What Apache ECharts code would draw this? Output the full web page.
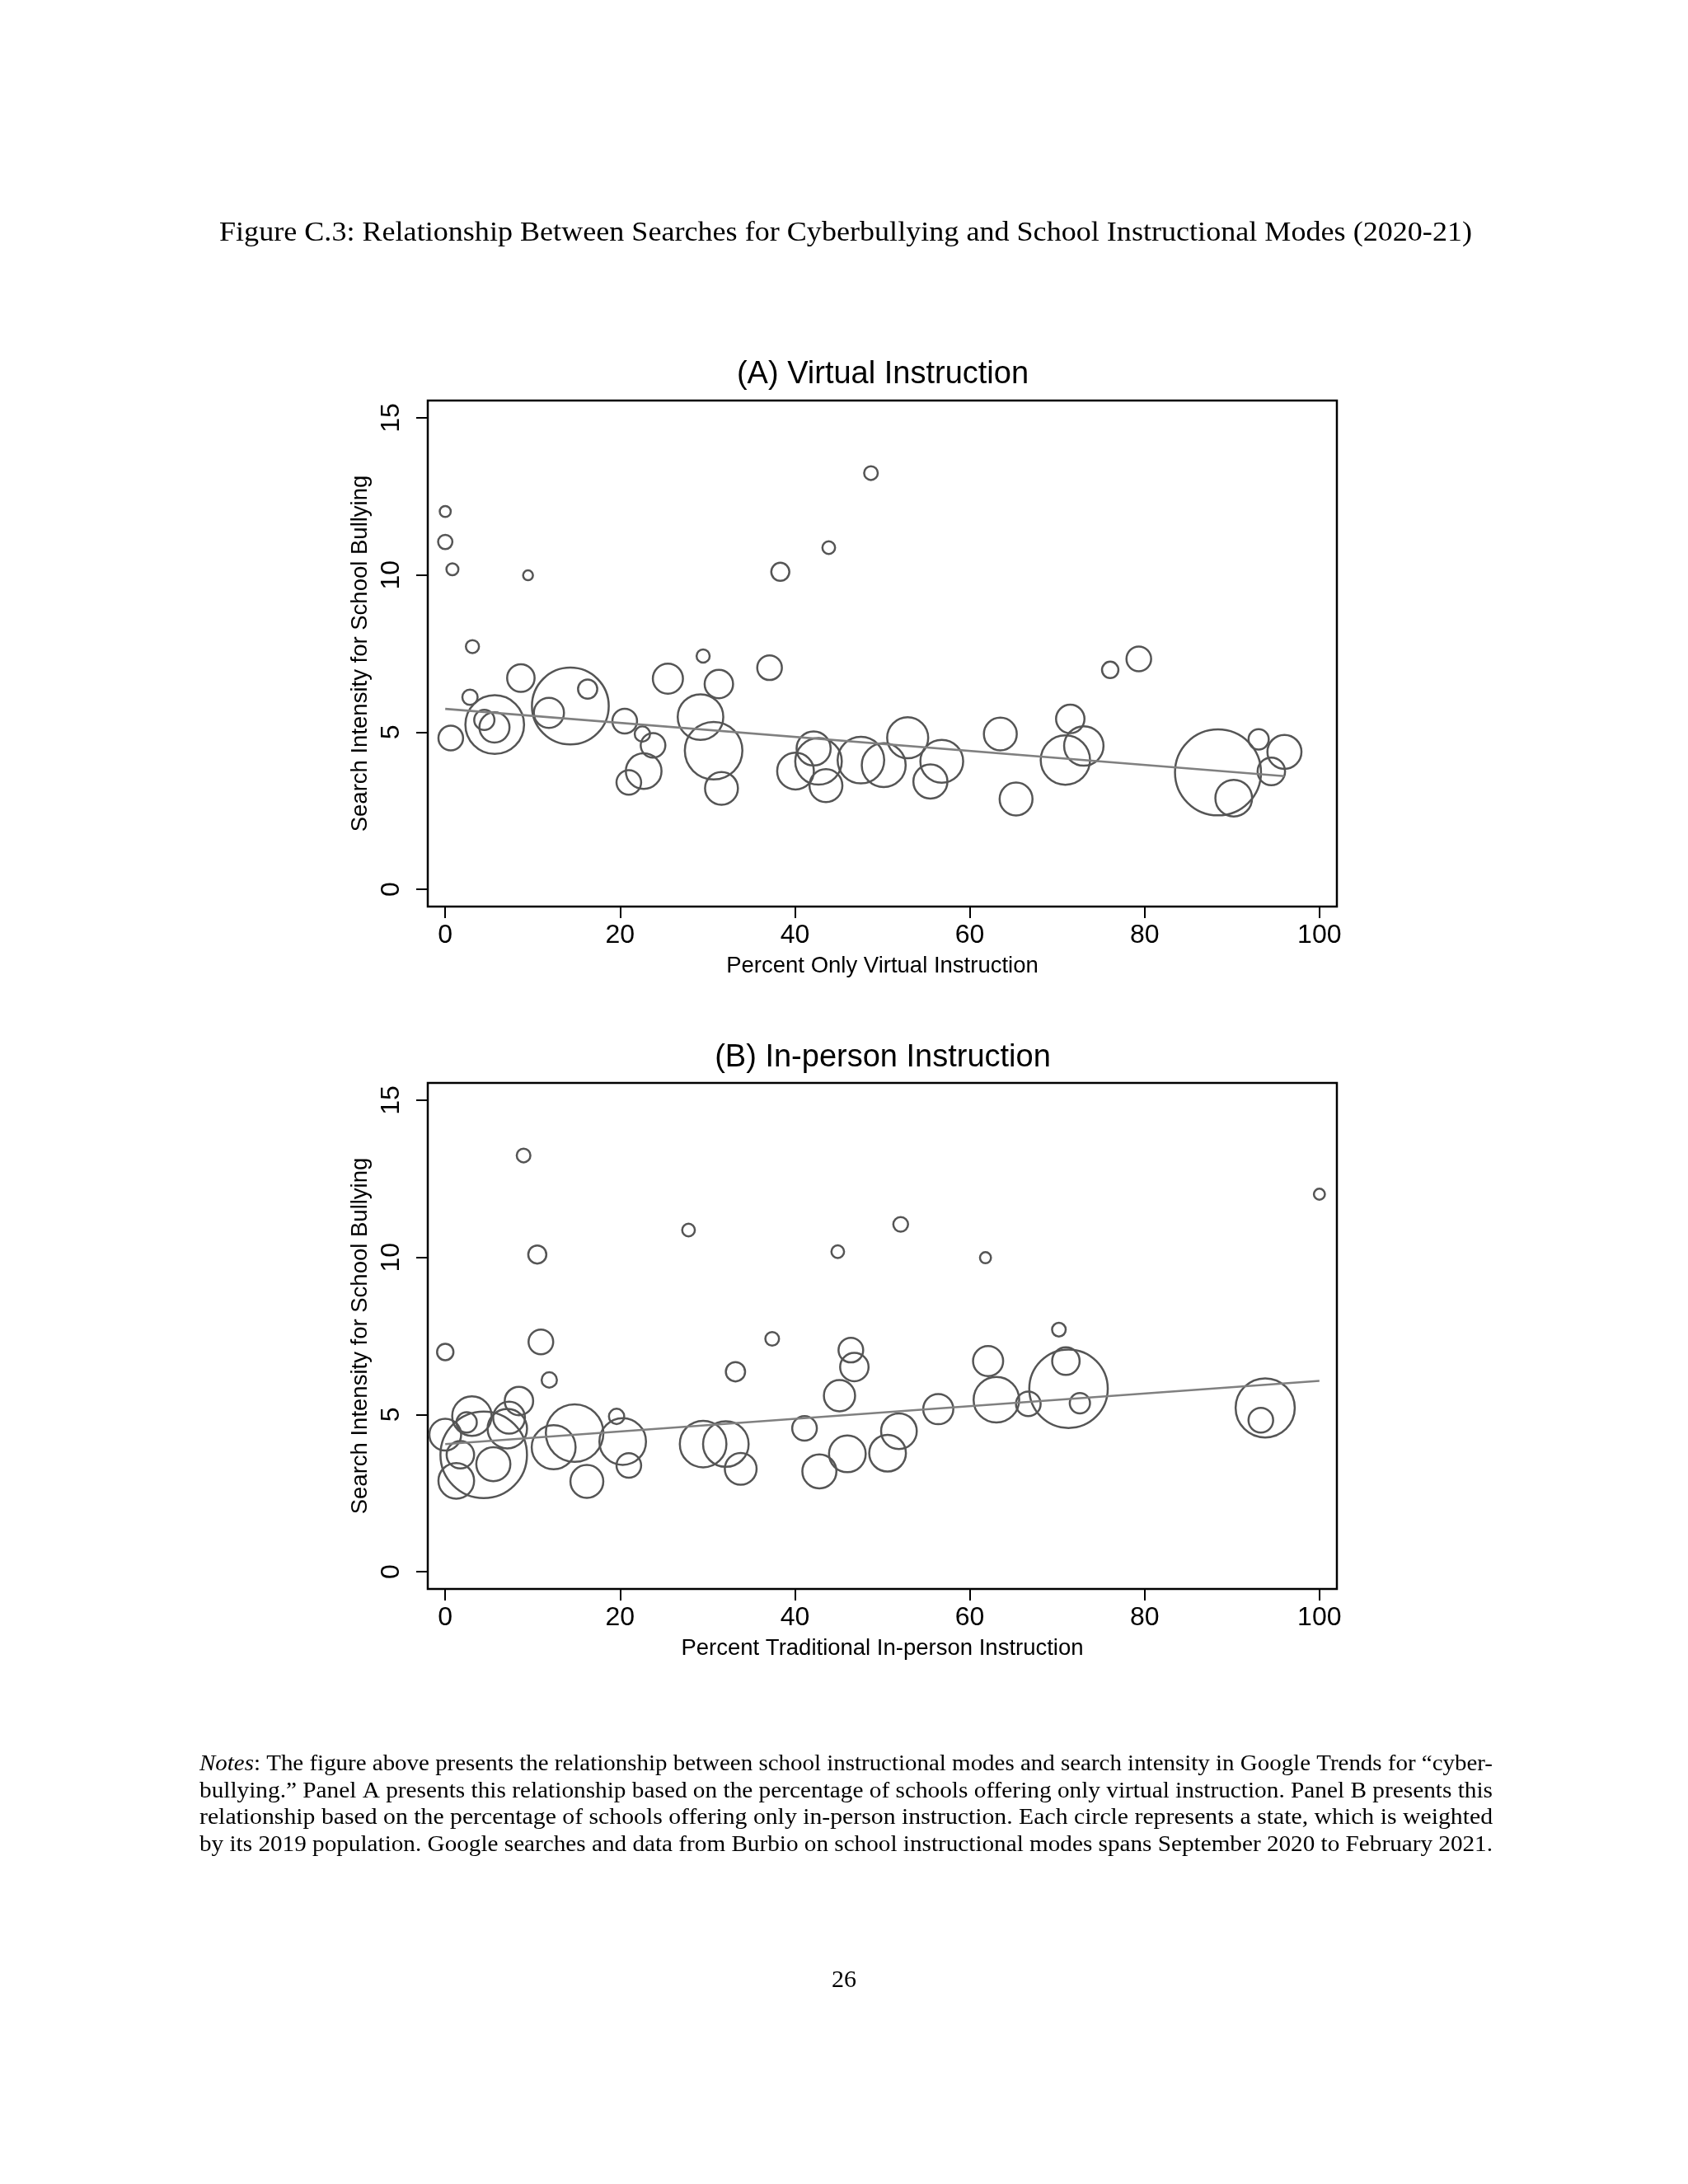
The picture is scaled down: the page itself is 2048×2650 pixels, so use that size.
<!DOCTYPE html>
<html>
<head>
<meta charset="utf-8">
<title>Figure C.3</title>
<script src="https://cdn.jsdelivr.net/npm/echarts@6/dist/echarts.min.js"></script>
<style>
  html, body { margin: 0; padding: 0; background: #fff; }
  #page { width: 2048px; height: 2650px; }
</style>
</head>
<body>
<div id="page"></div>
<script>
// Panel A: percent only virtual instruction vs search intensity, weighted by 2019 population (millions)
var virtualPct = [0, 0, 0.82, 9.47, 3.11, 8.65, 14.31, 16.29, 11.86, 2.83, 5.66, 5.63, 4.47, 0.63,
    20.53, 22.55, 23.77, 22.7, 21.0, 29.2, 30.7, 31.3, 25.47, 29.5, 31.6, 48.7, 43.87, 38.33, 37.1,
    40.07, 42.14, 42.7, 43.55, 47.55, 50.16, 52.9, 56.8, 55.5, 63.5, 65.3, 76.07, 79.34, 71.5, 73.05,
    70.94, 88.4, 90.2, 93.05, 96.0, 94.5];
var virtualSearch = [12.02, 11.05, 10.18, 9.99, 7.72, 6.72, 5.83, 6.37, 5.61, 6.11, 5.24, 5.15, 5.39, 4.81,
    5.35, 4.94, 4.58, 3.76, 3.40, 5.48, 4.41, 6.53, 6.70, 7.42, 3.21, 13.24, 10.87, 10.10, 7.05,
    3.76, 4.48, 4.07, 3.30, 4.11, 3.95, 4.82, 4.07, 3.43, 4.94, 2.87, 6.98, 7.33, 5.42, 4.56,
    4.11, 3.72, 2.90, 4.77, 4.37, 3.75];
var virtualPop = [0.65, 1.09, 0.77, 0.52, 0.92, 4.03, 31.5, 1.98, 4.84, 1.25, 18.4, 4.84, 2.19, 3.25,
    3.25, 1.25, 3.25, 6.8, 3.25, 11.1, 17.7, 4.32, 4.84, 0.92, 5.78, 1.0, 0.86, 1.75, 3.25,
    7.2, 6.2, 11.6, 5.78, 11.6, 10.3, 9.0, 9.8, 6.2, 5.78, 5.78, 1.44, 3.25, 4.32, 8.3,
    13.0, 39.5, 7.2, 2.19, 6.2, 4.03];
var virtualFit = [[0, 5.74], [96, 3.60]];

// Panel B: percent traditional in-person instruction
var inpersonPct = [8.96, 10.53, 27.83, 0, 10.94, 11.9, 33.2, 8.43, 19.6, 14.8, 12.4, 20.3, 21.0, 16.2,
    3.05, 2.45, 0, 4.4, 1.73, 1.26, 5.5, 7.3, 7.1, 52.1, 44.9, 61.8, 37.4, 46.4, 46.8, 45.1,
    41.1, 56.4, 62.1, 63.05, 66.7, 51.9, 50.6, 46.0, 42.8, 29.5, 32.1, 33.8, 100, 70.2, 71.0,
    71.3, 72.6, 93.8, 93.3];
var inpersonSearch = [13.24, 10.09, 10.87, 6.99, 7.31, 6.10, 6.36, 5.43, 4.94, 4.41, 3.96, 4.14, 3.38, 2.87,
    4.95, 4.75, 4.36, 3.72, 3.72, 2.89, 3.42, 4.90, 4.55, 11.05, 10.18, 9.99, 7.41, 7.05, 6.51, 5.60,
    4.56, 5.17, 6.70, 5.47, 5.34, 4.47, 3.77, 3.75, 3.19, 4.06, 4.06, 3.27, 12.01, 7.70, 6.70,
    5.82, 5.36, 5.21, 4.82];
var inpersonPop = [1.0, 1.75, 0.86, 1.44, 3.25, 1.25, 1.98, 4.32, 1.25, 17.7, 10.3, 11.6, 3.25, 5.78,
    8.3, 2.19, 5.4, 40.0, 4.03, 6.8, 6.2, 5.4, 8.3, 1.17, 0.86, 0.65, 1.0, 3.25, 4.32, 5.2,
    3.25, 4.84, 4.84, 11.1, 3.25, 6.8, 7.2, 7.2, 6.2, 11.6, 11.1, 5.4, 0.65, 1.0, 4.03,
    32.9, 2.19, 18.7, 3.25];
var inpersonFit = [[0, 4.06], [100, 6.07]];

var xTicks = [0, 20, 40, 60, 80, 100];
var yTicks = [0, 5, 10, 15];

var caption = 'Figure C.3: Relationship Between Searches for Cyberbullying and School Instructional Modes (2020-21)';
var notesLines = [
    'The figure above presents the relationship between school instructional modes and search intensity in Google Trends for \u201ccyber-',
    'bullying.\u201d Panel A presents this relationship based on the percentage of schools offering only virtual instruction. Panel B presents this',
    'relationship based on the percentage of schools offering only in-person instruction. Each circle represents a state, which is weighted',
    'by its 2019 population. Google searches and data from Burbio on school instructional modes spans September 2020 to February 2021.'
];

var sans = '"Liberation Sans", Arial, Helvetica, sans-serif';
var serif = '"Liberation Serif", "Times New Roman", serif';

// text width, used to stretch the serif lines to the justified page width
var ctx = document.createElement('canvas').getContext('2d');
function textWidth(str, font) {
    ctx.font = font;
    return ctx.measureText(str).width;
}

function zip(xs, ys, ws) {
    return xs.map(function (x, i) { return [x, ys[i], ws[i]]; });
}

function makeX(idx, name) {
    return {
        gridIndex: idx,
        type: 'value',
        min: -2,
        max: 102,
        name: name,
        nameLocation: 'middle',
        nameGap: 58,
        nameTextStyle: { fontFamily: sans, fontSize: 27.5, color: '#000' },
        axisLine: { show: false, onZero: false },
        axisTick: { show: true, length: 14, lineStyle: { color: '#000', width: 2 }, customValues: xTicks },
        axisLabel: { customValues: xTicks, fontFamily: sans, fontSize: 32, color: '#000', margin: 19 },
        splitLine: { show: false }
    };
}

function makeY(idx) {
    return {
        gridIndex: idx,
        type: 'value',
        min: -0.55,
        max: 15.55,
        name: 'Search Intensity for School Bullying',
        nameLocation: 'middle',
        nameGap: 61,
        nameTextStyle: { fontFamily: sans, fontSize: 27.5, color: '#000' },
        axisLine: { show: false, onZero: false },
        axisTick: { show: true, length: 14, lineStyle: { color: '#000', width: 2 }, customValues: yTicks },
        axisLabel: { customValues: yTicks, rotate: 90, fontFamily: sans, fontSize: 32, color: '#000', margin: 28 },
        splitLine: { show: false }
    };
}

function bubbles(idx, data) {
    return {
        type: 'scatter',
        xAxisIndex: idx,
        yAxisIndex: idx,
        data: data,
        symbol: 'circle',
        symbolSize: function (v) { return 16.6 * Math.sqrt(v[2]); },
        itemStyle: { color: 'rgba(0,0,0,0)', borderColor: '#555', borderWidth: 2.5, opacity: 1 },
        z: 2
    };
}

function fit(idx, data) {
    return {
        type: 'line',
        xAxisIndex: idx,
        yAxisIndex: idx,
        data: data,
        showSymbol: false,
        lineStyle: { color: '#808080', width: 2.6 },
        z: 3
    };
}

var pageLeft = 242, pageWidth = 1569;
var noteSize = 27, noteLead = 32.6;
var graphics = [];

var capFont = '33px ' + serif;
graphics.push({
    type: 'text', x: 266, y: 283, scaleX: 1520 / textWidth(caption, capFont),
    style: { text: caption, font: capFont, fill: '#000', textVerticalAlign: 'middle' }
});

notesLines.forEach(function (line, i) {
    var font = noteSize + 'px ' + serif;
    var w = textWidth(line, font);
    var text = line;
    var rich;
    if (i === 0) {
        w += textWidth('Notes', 'italic ' + font) + textWidth(': ', font);
        text = '{i|Notes}: ' + line;
        rich = { i: { fontFamily: serif, fontSize: noteSize, fontStyle: 'italic' } };
    }
    graphics.push({
        type: 'text', x: pageLeft, y: 2141 + i * noteLead, scaleX: pageWidth / w,
        style: { text: text, fontFamily: serif, fontSize: noteSize, fill: '#000', textVerticalAlign: 'middle', rich: rich }
    });
});

graphics.push(
    {
        type: 'text', x: 1071, y: 455,
        style: { text: '(A) Virtual Instruction', font: '38px ' + sans, fill: '#000', textAlign: 'center', textVerticalAlign: 'middle' }
    },
    {
        type: 'text', x: 1071, y: 1284,
        style: { text: '(B) In-person Instruction', font: '38px ' + sans, fill: '#000', textAlign: 'center', textVerticalAlign: 'middle' }
    },
    {
        type: 'text', x: 1024, y: 2403,
        style: { text: '26', font: '30px ' + serif, fill: '#000', textAlign: 'center', textVerticalAlign: 'middle' }
    }
);

var chart = echarts.init(document.getElementById('page'), null, { renderer: 'canvas' });
chart.setOption({
    backgroundColor: '#fff',
    animation: false,
    grid: [
        { left: 519, top: 486, width: 1103, height: 614, show: true, borderColor: '#000', borderWidth: 2.5, backgroundColor: 'rgba(0,0,0,0)' },
        { left: 519, top: 1314, width: 1103, height: 614, show: true, borderColor: '#000', borderWidth: 2.5, backgroundColor: 'rgba(0,0,0,0)' }
    ],
    xAxis: [makeX(0, 'Percent Only Virtual Instruction'), makeX(1, 'Percent Traditional In-person Instruction')],
    yAxis: [makeY(0), makeY(1)],
    series: [
        bubbles(0, zip(virtualPct, virtualSearch, virtualPop)),
        fit(0, virtualFit),
        bubbles(1, zip(inpersonPct, inpersonSearch, inpersonPop)),
        fit(1, inpersonFit)
    ],
    graphic: graphics
});
</script>
</body>
</html>
